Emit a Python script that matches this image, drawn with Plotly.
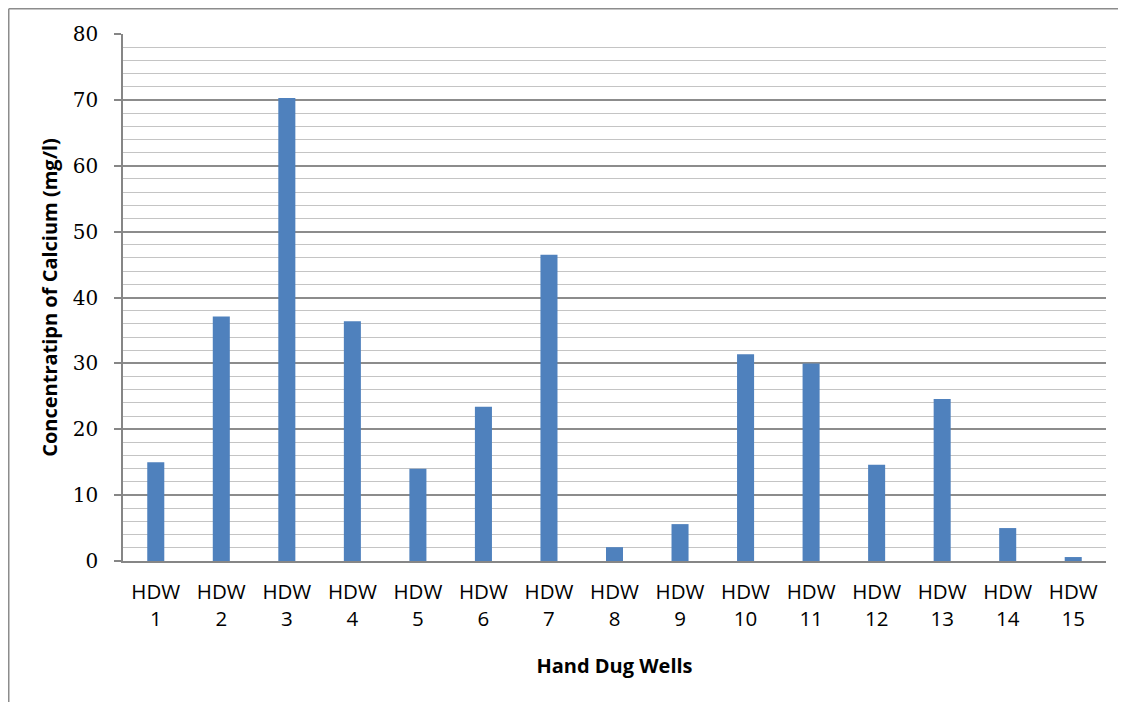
import plotly.graph_objects as go

wells = ["HDW 1", "HDW 2", "HDW 3", "HDW 4", "HDW 5", "HDW 6", "HDW 7", "HDW 8",
         "HDW 9", "HDW 10", "HDW 11", "HDW 12", "HDW 13", "HDW 14", "HDW 15"]
tick_labels = [w.replace(" ", "<br>") for w in wells]
calcium = [15.0, 37.1, 70.3, 36.4, 14.0, 23.4, 46.5, 2.1, 5.6, 31.4, 30.0, 14.6, 24.6, 5.0, 0.6]

W, H = 1118, 694
L, R, T, B = 115, 20, 26, 141
pw, ph = W - L - R, H - T - B

fig = go.Figure(go.Bar(x=wells, y=calcium, marker=dict(color="#4F81BD", line=dict(width=0)),
                       width=0.26))

fig.update_layout(
    width=W, height=H,
    margin=dict(l=L, r=R, t=T, b=B),
    paper_bgcolor="white", plot_bgcolor="white",
    showlegend=False,
    font=dict(family="Open Sans", color="black"),
    xaxis=dict(
        tickmode="array", tickvals=wells, ticktext=tick_labels,
        tickfont=dict(family="Open Sans", size=20.5, color="black"),
        showline=True, linecolor="#868686", linewidth=1.5,
        ticks="", showgrid=False, ticklabelstandoff=12,
        title=dict(text="<b>Hand Dug Wells</b>", font=dict(family="Open Sans", size=20, color="black"),
                   standoff=28),
    ),
    yaxis=dict(
        range=[0, 80], dtick=10, tick0=0,
        tickfont=dict(family="DejaVu Serif", size=20, color="black"),
        showline=True, linecolor="#868686", linewidth=1.5,
        ticks="outside", ticklen=7, tickcolor="#868686", tickwidth=1.5,
        ticklabelstandoff=12,
        showgrid=True, gridcolor="#8c8c8c", gridwidth=1.5,
        minor=dict(dtick=2, showgrid=True, gridcolor="#c4c4c4", gridwidth=1.2),
        zeroline=False,
        title=dict(text="<b>Concentratipn of Calcium (mg/l)</b>",
                   font=dict(family="Open Sans", size=20, color="black"), standoff=10),
    ),
    shapes=[
        dict(type="line", xref="paper", yref="paper", x0=(0.75 - L) / pw, x1=(W - L) / pw,
             y0=(H - B - 0.75) / ph, y1=(H - B - 0.75) / ph, line=dict(color="#8c8c8c", width=1.5)),
        dict(type="line", xref="paper", yref="paper", x0=(0.75 - L) / pw, x1=(0.75 - L) / pw,
             y0=(H - B - 0.75) / ph, y1=-B / ph, line=dict(color="#8c8c8c", width=1.5)),
    ],
)

fig.write_html("out.html")
